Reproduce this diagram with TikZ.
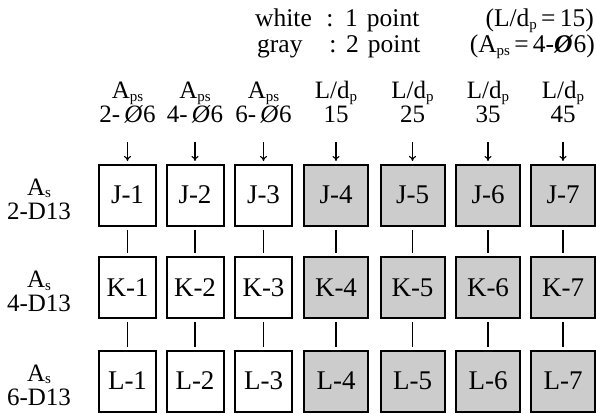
\documentclass[tikz,border=0pt]{standalone}
\usepackage{fontspec}
\setmainfont{Liberation Serif}
\usetikzlibrary{arrows.meta}
\newcommand{\lowsub}[1]{\raisebox{-0.1em}{\fontsize{15}{15}\selectfont #1}}
\begin{document}
\begin{tikzpicture}[x=1pt,y=-1pt,
  font=\fontsize{25}{28}\selectfont,
  box/.style={draw,line width=2pt,minimum width=57pt,minimum height=61pt,inner sep=0pt,
    font=\fontsize{27}{30}\selectfont},
  graybox/.style={box,fill=black!20,minimum width=64pt},
  link/.style={line width=1.1pt,shorten <=3pt,shorten >=3pt},
  feed/.style={line width=1.1pt,-{To[length=5pt,width=7pt]},shorten >=2.5pt},
  lbl/.style={anchor=base,inner sep=0pt},
  legend/.style={lbl,font=\fontsize{25.5}{28}\selectfont}]
\useasboundingbox (0,0) rectangle (596,414);

% legend
\node[legend,anchor=base west] (w1) at (255,27) {white};
\node[legend] (w2) at (330,27) {:};
\node[legend,anchor=base west] (w3) at (345,27) {1\hspace{9pt}point};
\node[legend,anchor=base east] (w4) at (594,27) {(L/d\lowsub{p}\,=\,15)};
\node[legend,anchor=base west] (g1) at (257,52.5) {gray};
\node[legend] (g2) at (333,52.5) {:};
\node[legend,anchor=base west] (g3) at (346,52.5) {2\hspace{9pt}point};
\node[legend,anchor=base east] (g4) at (595,52.5) {(A\lowsub{ps}\,=\,4-\textbf{\textit{Ø}}6)};

% row labels
\foreach \r/\y/\n in {J/195/2,K/287.5/4,L/381/6}{
  \node[lbl] (ra\r) at (39,\y) {A\lowsub{s}};
  \node[lbl] (rb\r) at (39,\y+24) {\n-D13};
}

% white columns
\foreach \c/\x/\n in {1/127.5/2,2/195/4,3/263.5/6}{
  \node[lbl] (ha\c) at (\x,99) {A\lowsub{ps}};
  \node[lbl] (hb\c) at (\x,123) {\n-\,\textit{Ø}6};
  \node[box] (J\c) at (\x,195) {J-\c};
  \node[box] (K\c) at (\x,287.5) {K-\c};
  \node[box] (L\c) at (\x,381) {L-\c};
  \coordinate (t\c) at (\x,142);
  \draw[feed] (t\c) -- (J\c);
  \draw[link] (J\c) -- (K\c);
  \draw[link] (K\c) -- (L\c);
}

% gray columns
\foreach \c/\x/\n in {4/336/15,5/412.5/25,6/488/35,7/563/45}{
  \node[lbl] (ha\c) at (\x,99) {L/d\lowsub{p}};
  \node[lbl] (hb\c) at (\x,123) {\n};
  \node[graybox] (J\c) at (\x,195) {J-\c};
  \node[graybox] (K\c) at (\x,287.5) {K-\c};
  \node[graybox] (L\c) at (\x,381) {L-\c};
  \coordinate (t\c) at (\x,142);
  \draw[feed] (t\c) -- (J\c);
  \draw[link] (J\c) -- (K\c);
  \draw[link] (K\c) -- (L\c);
}
\end{tikzpicture}
\end{document}
